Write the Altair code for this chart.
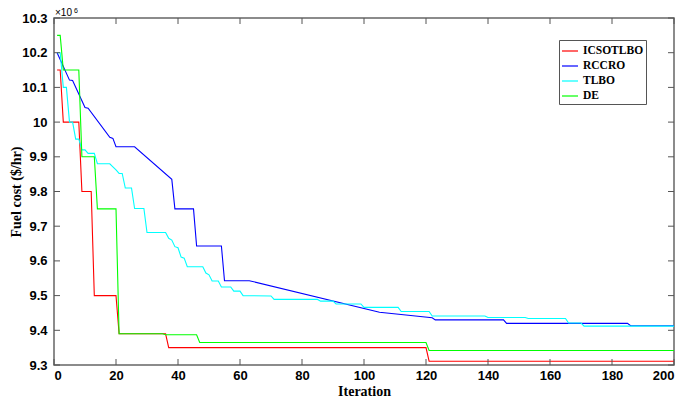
import altair as alt
import pandas as pd

names = ["ICSOTLBO", "RCCRO", "TLBO", "DE"]
colors = ["#ff0000", "#0000ff", "#00ffff", "#00ff00"]

icso_iter = [1, 2, 3, 8, 9, 12, 13, 20, 21, 36, 37, 120, 121, 200]
icso_cost = [10.15, 10.15, 10.0, 10.0, 9.8, 9.8, 9.5, 9.5, 9.39, 9.39, 9.35, 9.35, 9.311, 9.311]

rccro_iter = [1, 5, 6, 10, 11, 18, 19, 20, 26, 38, 39, 45, 46, 54, 55, 63, 105, 122, 123, 145, 146, 185, 186, 200]
rccro_cost = [10.2, 10.121, 10.12, 10.042, 10.04, 9.956, 9.953, 9.929, 9.929, 9.835, 9.75, 9.75, 9.643, 9.643,
              9.543, 9.543, 9.452, 9.436, 9.43, 9.43, 9.42, 9.42, 9.413, 9.413]

tlbo_iter = [1, 2, 3, 4, 5, 6, 7, 8, 9, 10, 11, 13, 14, 18, 19, 20, 21, 22, 23, 25, 26, 29, 30, 36, 37, 38, 39,
             40, 41, 42, 43, 48, 49, 50, 51, 53, 54, 57, 58, 60, 61, 70, 71, 85, 86, 90, 91, 99, 100, 111, 112,
             121, 122, 139, 140, 152, 153, 165, 166, 170, 171, 200]
tlbo_cost = [10.2, 10.2, 10.1, 10.1, 10.0, 10.0, 9.951, 9.951, 9.92, 9.92, 9.91, 9.91, 9.88, 9.88, 9.871, 9.862,
             9.852, 9.852, 9.81, 9.81, 9.751, 9.751, 9.682, 9.682, 9.665, 9.66, 9.641, 9.638, 9.611, 9.608, 9.583,
             9.583, 9.565, 9.56, 9.542, 9.542, 9.525, 9.525, 9.513, 9.513, 9.5, 9.499, 9.489, 9.489, 9.484, 9.484,
             9.476, 9.476, 9.466, 9.466, 9.454, 9.454, 9.441, 9.441, 9.437, 9.437, 9.434, 9.434, 9.421, 9.421,
             9.412, 9.412]

de_iter = [1, 2, 3, 8, 9, 13, 14, 20, 21, 35, 36, 46, 47, 120, 121, 200]
de_cost = [10.25, 10.25, 10.15, 10.15, 9.9, 9.9, 9.75, 9.75, 9.39, 9.39, 9.387, 9.387, 9.365, 9.365, 9.342, 9.342]

x_ticks = [0, 20, 40, 60, 80, 100, 120, 140, 160, 180, 200]
y_ticks = [9.3, 9.4, 9.5, 9.6, 9.7, 9.8, 9.9, 10.0, 10.1, 10.2, 10.3]

series = [(names[0], icso_iter, icso_cost), (names[1], rccro_iter, rccro_cost),
          (names[2], tlbo_iter, tlbo_cost), (names[3], de_iter, de_cost)]
df = pd.concat([pd.DataFrame({"iter": it, "cost": c, "algo": n, "k": i})
                for i, (n, it, c) in enumerate(series)], ignore_index=True)

W, H = 620, 347
xscale = alt.Scale(domain=[0, 200], nice=False, zero=False)
yscale = alt.Scale(domain=[9.3, 10.3], nice=False, zero=False)
xaxis = alt.Axis(values=x_ticks, labelPadding=4, titlePadding=2, labelOverlap=False)
yaxis = alt.Axis(values=y_ticks, format=".3~g", labelPadding=7, titlePadding=-2, labelOverlap=False)
XT, YT = "Iteration", "Fuel cost ($/hr)"

lines = alt.Chart(df).mark_line(strokeWidth=1.1).encode(
    x=alt.X("iter:Q", scale=xscale, title=XT, axis=xaxis),
    y=alt.Y("cost:Q", scale=yscale, title=YT, axis=yaxis),
    color=alt.Color("algo:N", scale=alt.Scale(domain=names, range=colors),
                    legend=alt.Legend(title=None, orient="none", legendX=505, legendY=22,
                                      symbolType="stroke", symbolSize=256, symbolStrokeWidth=1.2,
                                      labelFont="Liberation Serif", labelFontWeight="bold",
                                      labelFontSize=11.5, labelColor="black", rowPadding=0,
                                      padding=2, fillColor="white", strokeColor="#555555",
                                      labelOffset=4)),
    detail="k:N",
)

xt = pd.DataFrame({"iter": x_ticks})
yt = pd.DataFrame({"cost": y_ticks})
tick_color = "#555555"
bottom = alt.Chart(xt).mark_rule(color=tick_color).encode(
    x=alt.X("iter:Q", scale=xscale, title=XT, axis=xaxis), y=alt.value(H), y2=alt.value(H - 6))
top = alt.Chart(xt).mark_rule(color=tick_color).encode(
    x=alt.X("iter:Q", scale=xscale, title=XT, axis=xaxis), y=alt.value(0), y2=alt.value(6))
left = alt.Chart(yt).mark_rule(color=tick_color).encode(
    y=alt.Y("cost:Q", scale=yscale, title=YT, axis=yaxis), x=alt.value(0), x2=alt.value(6))
right = alt.Chart(yt).mark_rule(color=tick_color).encode(
    y=alt.Y("cost:Q", scale=yscale, title=YT, axis=yaxis), x=alt.value(W), x2=alt.value(W - 6))

exp_df = pd.DataFrame({"t": ["\u00d710"], "s": ["6"]})
exp_main = alt.Chart(exp_df).mark_text(align="left", baseline="alphabetic", fontSize=10,
                                       font="Liberation Sans", color="black").encode(
    text="t:N", x=alt.value(1), y=alt.value(-2))
exp_sup = alt.Chart(exp_df).mark_text(align="left", baseline="alphabetic", fontSize=7,
                                      font="Liberation Sans", color="black").encode(
    text="s:N", x=alt.value(20), y=alt.value(-5))

chart = alt.layer(lines, bottom, top, left, right, exp_main, exp_sup).properties(
    width=W, height=H,
    autosize=alt.AutoSizeParams(type="none"),
    padding={"left": 46, "top": 10, "right": 3, "bottom": 32},
    background="white",
).configure_view(stroke="#666666", strokeWidth=1.5).configure_axis(
    domain=False, ticks=False, grid=False, labelOverlap=False, labelBound=False,
    labelFont="Liberation Sans", labelFontWeight="bold", labelFontSize=13, labelColor="black",
    titleFont="Liberation Serif", titleFontWeight="bold", titleFontSize=14, titleColor="black",
)

chart.save("out.html", embed_options={"renderer": "svg", "actions": False})
